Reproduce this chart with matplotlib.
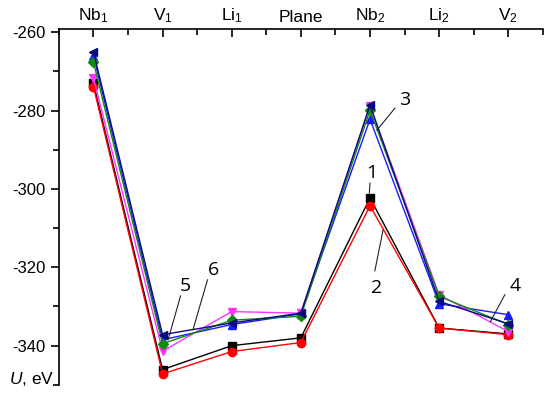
import matplotlib.pyplot as plt

plt.rcParams['font.family'] = ['Liberation Sans', 'DejaVu Sans']
plt.rcParams['mathtext.fontset'] = 'custom'
plt.rcParams['mathtext.rm'] = 'Liberation Sans'
plt.rcParams['mathtext.it'] = 'Liberation Sans:italic'
plt.rcParams['axes.unicode_minus'] = False

# positions along the path
sites = ['Nb$_\\mathregular{1}$', 'V$_\\mathregular{1}$', 'Li$_\\mathregular{1}$', 'Plane',
         'Nb$_\\mathregular{2}$', 'Li$_\\mathregular{2}$', 'V$_\\mathregular{2}$']

# energies U, eV for curves 1-6
u1 = [-273.0, -346.1, -340.0, -338.0, -302.3, -335.5, -337.0]
u2 = [-273.9, -347.2, -341.5, -339.2, -304.3, -335.5, -337.2]
u3 = [-266.0, -338.5, -334.6, -331.9, -282.2, -329.3, -332.1]
u4 = [-271.6, -341.4, -331.3, -331.7, -278.8, -327.0, -336.4]
u5 = [-267.6, -339.5, -333.5, -332.5, -279.9, -327.4, -334.6]
u6 = [-265.0, -337.2, -334.2, -331.7, -278.6, -328.7, -334.4]

series = [
    (u1, 'black', 's'),
    (u2, 'red', 'o'),
    (u3, '#1a1aff', '^'),
    (u4, '#ff33ff', 'v'),
    (u5, '#108a10', 'D'),
    (u6, '#0a0a80', '<'),
]

fig = plt.figure(figsize=(5.5, 3.98), dpi=100)
ax = fig.add_axes([0.107, 0.033, 0.88, 0.894])

x = list(range(len(sites)))
for vals, col, mk in series:
    ms = 5 if mk == 'D' else 6
    ax.plot(x, vals, color=col, lw=1.0, marker=mk, ms=ms, mec=col, mfc=col)

# curve labels with leader lines
labels = [
    ('1', (4.03, -295.9), (3.99, -301.0), (4.00, -298.5)),
    ('2', (4.10, -325.2), (4.19, -310.4), (4.07, -320.9)),
    ('3', (4.50, -277.3), (4.10, -285.0), (4.36, -279.4)),
    ('4', (6.10, -324.7), (5.74, -333.9), (5.95, -327.0)),
    ('5', (1.33, -324.7), (1.08, -338.5), (1.26, -327.3)),
    ('6', (1.74, -320.6), (1.44, -335.9), (1.65, -323.2)),
]
for txt, tpos, p0, p1 in labels:
    ax.text(tpos[0], tpos[1], txt, fontsize=14, ha='center', va='center',
            family=['Open Sans', 'DejaVu Sans'])
    ax.plot([p0[0], p1[0]], [p0[1], p1[1]], color='#222222', lw=0.8)

ax.set_xlim(-0.5, 6.5)
ax.set_ylim(-350, -259.2)

ax.spines['right'].set_visible(False)
ax.spines['bottom'].set_visible(False)
ax.spines['top'].set_linewidth(1.2)
ax.spines['left'].set_linewidth(1.2)

ax.xaxis.tick_top()
ax.set_xticks(x)
ax.set_xticklabels(sites, fontsize=12.5)
ax.set_xticks([i + 0.5 for i in range(-1, 7)], minor=True)
ax.tick_params(axis='x', which='major', direction='in', length=6, width=1.2, pad=3)
ax.tick_params(axis='x', which='minor', direction='in', length=4, width=1.2)

ax.set_yticks([-260, -280, -300, -320, -340])
ax.set_yticks([-270, -290, -310, -330, -350], minor=True)
ax.tick_params(axis='y', which='major', direction='out', length=6, width=1.2, labelsize=12)
ax.tick_params(axis='y', which='minor', direction='out', length=4, width=1.2)

ax.text(-0.01, -348.6, '$\\mathit{U}$, eV', fontsize=12.5, ha='right', va='center',
        transform=ax.get_yaxis_transform())

fig.savefig('out.png', dpi=100)
